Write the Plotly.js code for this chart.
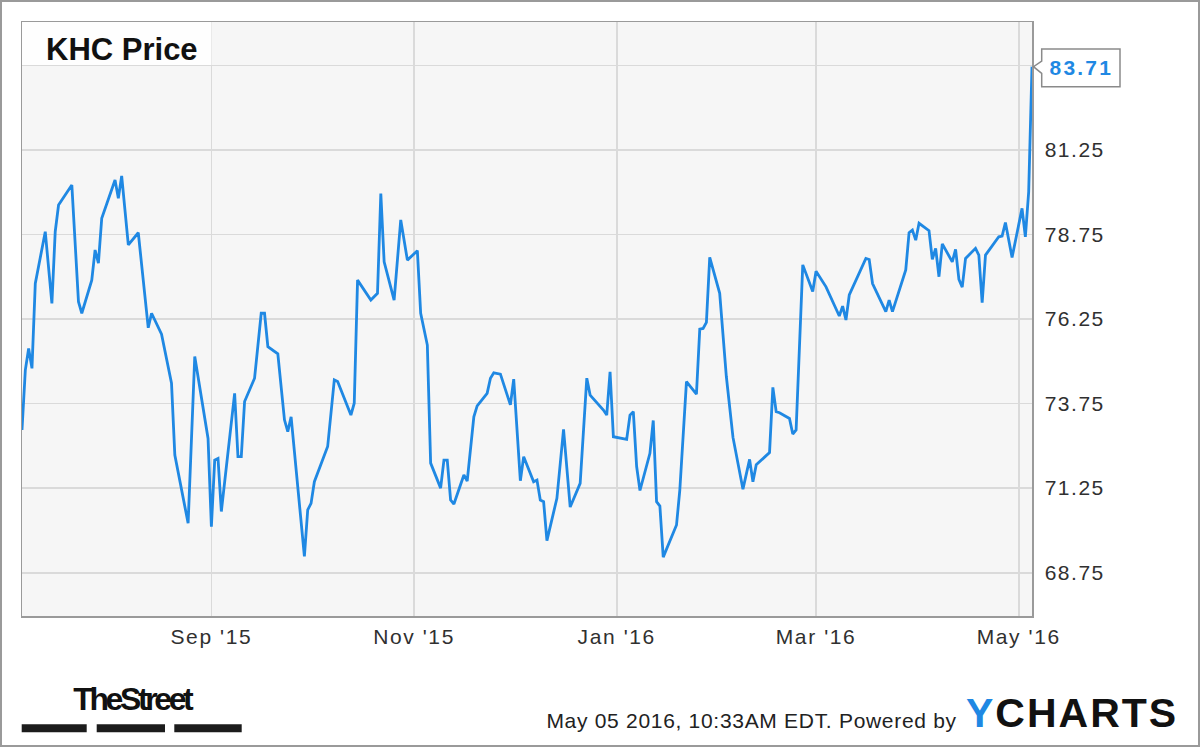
<!DOCTYPE html>
<html>
<head>
<meta charset="utf-8">
<script src="https://cdn.plot.ly/plotly-3.0.1.min.js"></script>
<style>
  html, body { margin: 0; padding: 0; background: #ffffff; }
  #wrap { position: relative; width: 1200px; height: 747px; }
  #chart { width: 1200px; height: 747px; }
  #frame { position: absolute; left: 0; top: 0; width: 1200px; height: 747px; box-sizing: border-box; border: 2px solid #9a9a9a; pointer-events: none; }
  .xtick text { letter-spacing: 1.6px; }
  .ytick text { letter-spacing: 1.5px; }
  .annotation[data-index="1"] text { letter-spacing: 2.2px; }
  .annotation[data-index="2"] text { letter-spacing: 0.7px; }
  .annotation[data-index="3"] text { letter-spacing: 2px; }
  .annotation[data-index="4"] text { letter-spacing: -3.4px; }
</style>
</head>
<body>
<div id="wrap">
  <div id="chart"></div>
  <div id="frame"></div>
</div>
<script>
// ---- data ----
const dates = [
  "2015-07-06","2015-07-07","2015-07-08","2015-07-09","2015-07-10","2015-07-13","2015-07-15","2015-07-16","2015-07-17","2015-07-21",
  "2015-07-23","2015-07-24","2015-07-27","2015-07-28","2015-07-29","2015-07-30","2015-08-03","2015-08-04","2015-08-05","2015-08-07",
  "2015-08-10","2015-08-13","2015-08-14","2015-08-17","2015-08-20","2015-08-21","2015-08-25","2015-08-27","2015-08-31","2015-09-01",
  "2015-09-02","2015-09-03","2015-09-04","2015-09-08","2015-09-09","2015-09-10","2015-09-11","2015-09-14","2015-09-16","2015-09-17",
  "2015-09-18","2015-09-21","2015-09-23","2015-09-24","2015-09-25","2015-09-29","2015-09-30","2015-10-01","2015-10-02","2015-10-06",
  "2015-10-08","2015-10-09","2015-10-13","2015-10-14","2015-10-15","2015-10-19","2015-10-21","2015-10-22","2015-10-23","2015-10-26",
  "2015-10-28","2015-10-30","2015-11-02","2015-11-03","2015-11-05","2015-11-06","2015-11-09","2015-11-10","2015-11-11","2015-11-12",
  "2015-11-13","2015-11-16","2015-11-17","2015-11-19","2015-11-20","2015-11-23","2015-11-24","2015-11-25","2015-11-27","2015-11-30",
  "2015-12-01","2015-12-03","2015-12-04","2015-12-07","2015-12-08","2015-12-09","2015-12-10","2015-12-11","2015-12-14","2015-12-16",
  "2015-12-18","2015-12-21","2015-12-23","2015-12-24","2015-12-28","2015-12-29","2015-12-30","2015-12-31","2016-01-04","2016-01-05",
  "2016-01-06","2016-01-07","2016-01-08","2016-01-11","2016-01-12","2016-01-13","2016-01-14","2016-01-15","2016-01-19","2016-01-20",
  "2016-01-22","2016-01-25","2016-01-26","2016-01-27","2016-01-28","2016-01-29","2016-02-01","2016-02-03","2016-02-05","2016-02-08",
  "2016-02-10","2016-02-11","2016-02-12","2016-02-16","2016-02-17","2016-02-18","2016-02-19","2016-02-22","2016-02-23","2016-02-24",
  "2016-02-26","2016-02-29","2016-03-01","2016-03-04","2016-03-08","2016-03-09","2016-03-10","2016-03-11","2016-03-16","2016-03-17",
  "2016-03-18","2016-03-22","2016-03-23","2016-03-24","2016-03-28","2016-03-29","2016-03-30","2016-03-31","2016-04-01","2016-04-04",
  "2016-04-05","2016-04-06","2016-04-07","2016-04-08","2016-04-11","2016-04-12","2016-04-13","2016-04-14","2016-04-15","2016-04-18",
  "2016-04-19","2016-04-20","2016-04-21","2016-04-25","2016-04-26","2016-04-27","2016-04-29","2016-05-02","2016-05-03","2016-05-04",
  "2016-05-05"
];
const prices = [
  72.97,74.74,75.38,74.79,77.30,78.83,76.71,78.83,79.62,80.21,
  76.76,76.42,77.40,78.29,77.90,79.23,80.36,79.82,80.48,78.44,
  78.80,75.99,76.42,75.80,74.35,72.23,70.21,75.14,72.72,70.11,
  72.08,72.13,70.56,74.05,72.18,72.18,73.81,74.50,76.42,76.42,
  75.43,75.22,73.27,72.92,73.36,69.23,70.61,70.80,71.44,72.48,
  74.45,74.40,73.41,73.76,77.40,76.81,77.01,79.96,77.94,76.81,
  79.18,77.99,78.27,76.42,75.48,71.99,71.25,72.08,72.08,70.90,
  70.78,71.64,71.46,73.36,73.68,74.05,74.50,74.66,74.62,73.71,
  74.47,71.47,72.18,71.44,71.49,70.90,70.85,69.70,70.95,72.99,
  70.69,71.39,74.50,74.00,73.56,73.41,74.69,72.77,72.69,73.41,
  73.51,71.89,71.18,72.28,73.25,70.85,70.72,69.21,70.16,71.20,
  74.40,74.03,75.95,75.97,76.15,78.07,77.01,74.55,72.75,71.22,
  72.10,71.44,71.94,72.30,74.23,73.51,73.48,73.31,72.85,72.97,
  77.85,77.06,77.66,77.20,76.34,76.63,76.22,76.96,78.04,78.01,
  77.30,76.47,76.81,76.47,77.70,78.80,78.88,78.58,79.08,78.86,
  78.01,78.34,77.50,78.47,77.94,78.31,77.42,77.19,78.04,78.34,
  78.14,76.73,78.14,78.68,78.70,79.10,78.07,79.52,78.68,80.01,
  83.71
];
const xTickVals = ["2015-09-01","2015-11-01","2016-01-01","2016-03-01","2016-05-01"];
const xTickText = ["Sep '15","Nov '15","Jan '16","Mar '16","May '16"];
const yTickVals = [68.75, 71.25, 73.75, 76.25, 78.75, 81.25, 83.75];
const yTickText = ["68.75","71.25","73.75","76.25","78.75","81.25",""];
const chartTitle = "KHC Price";
const lastLabel = "83.71";
const footerText = "May 05 2016, 10:33AM EDT. Powered by";

// ---- layout helpers (pixel -> paper) ----
const L = 22, R = 168, T = 22, B = 131, W = 1200, H = 747;
const PW = W - L - R, PH = H - T - B;
const px = v => (v - L) / PW;
const py = v => (H - B - v) / PH;

const BLUE = "#1f88e3";

const trace = {
  x: dates, y: prices, type: "scatter", mode: "lines",
  line: {color: BLUE, width: 2.8, shape: "linear"},
  hoverinfo: "skip"
};

const calloutPath =
  "M " + px(1041.7) + "," + py(49) +
  " L " + px(1120) + "," + py(49) +
  " L " + px(1120) + "," + py(86.7) +
  " L " + px(1041.7) + "," + py(86.7) +
  " L " + px(1041.7) + "," + py(73.3) +
  " L " + px(1033.5) + "," + py(66.7) +
  " L " + px(1041.7) + "," + py(61.0) + " Z";

const bar = (x0, x1) => ({
  type: "rect", xref: "paper", yref: "paper",
  x0: px(x0), x1: px(x1), y0: py(732.3), y1: py(724.3),
  fillcolor: "#1c1c1c", line: {width: 0}, layer: "above"
});

const layout = {
  width: W, height: H,
  margin: {l: L, r: R, t: T, b: B, pad: 0},
  paper_bgcolor: "#ffffff",
  plot_bgcolor: "#f6f6f6",
  showlegend: false,
  font: {family: "Liberation Sans, Arial, sans-serif", color: "#303030"},
  xaxis: {
    type: "date",
    range: [dates[0], dates[dates.length - 1]],
    tickmode: "array", tickvals: xTickVals, ticktext: xTickText,
    showgrid: true, gridcolor: "#dadada", gridwidth: 1.6,
    showline: true, linecolor: "#9a9a9a", linewidth: 1.5, mirror: true,
    ticks: "", ticklabelstandoff: 1,
    tickfont: {family: "Liberation Sans, Arial, sans-serif", size: 21, color: "#303030"},
    zeroline: false, fixedrange: true
  },
  yaxis: {
    range: [67.47, 85.03],
    side: "right",
    tickmode: "array", tickvals: yTickVals, ticktext: yTickText,
    showgrid: true, gridcolor: "#dadada", gridwidth: 1.6,
    showline: true, linecolor: "#9a9a9a", linewidth: 1.5, mirror: true,
    ticks: "", ticklabelstandoff: 7,
    tickfont: {family: "Liberation Sans, Arial, sans-serif", size: 21, color: "#303030"},
    zeroline: false, fixedrange: true
  },
  shapes: [
    {type: "rect", xref: "paper", yref: "paper", x0: 0, x1: px(211.5), y0: py(65), y1: 1,
     fillcolor: "rgba(255,255,255,0.85)", line: {width: 0}, layer: "above"},
    {type: "path", xref: "paper", yref: "paper", path: calloutPath,
     fillcolor: "#ffffff", line: {color: "#8a8a8a", width: 1.5}, layer: "above"},
    bar(21.7, 86.7), bar(96.7, 165), bar(174.3, 241.7)
  ],
  annotations: [
    {text: "<b>" + chartTitle + "</b>", xref: "paper", yref: "paper",
     x: px(44), y: py(49.5), xanchor: "left", yanchor: "middle", showarrow: false,
     font: {family: "Liberation Sans, Arial, sans-serif", size: 31, color: "#111111"}},
    {text: "<b>" + lastLabel + "</b>", xref: "paper", yref: "paper",
     x: px(1081), y: py(67.5), xanchor: "center", yanchor: "middle", showarrow: false,
     font: {family: "Liberation Sans, Arial, sans-serif", size: 21, color: BLUE}},
    {text: footerText, xref: "paper", yref: "paper",
     x: px(751.5), y: py(720.5), xanchor: "center", yanchor: "middle", showarrow: false,
     font: {family: "Liberation Sans, Arial, sans-serif", size: 21, color: "#222222"}},
    {text: "<b><span style=\"color:" + BLUE + "\">Y</span>CHARTS</b>", xref: "paper", yref: "paper",
     x: px(1072), y: py(712.5), xanchor: "center", yanchor: "middle", showarrow: false,
     font: {family: "Liberation Sans, Arial, sans-serif", size: 41, color: "#111111"}},
    {text: "<b>TheStreet</b>", xref: "paper", yref: "paper",
     x: px(132), y: py(699), xanchor: "center", yanchor: "middle", showarrow: false,
     font: {family: "Liberation Sans, Arial, sans-serif", size: 32, color: "#111111"}}
  ]
};

Plotly.newPlot("chart", [trace], layout, {staticPlot: true, displayModeBar: false, responsive: false});
</script>
</body>
</html>
